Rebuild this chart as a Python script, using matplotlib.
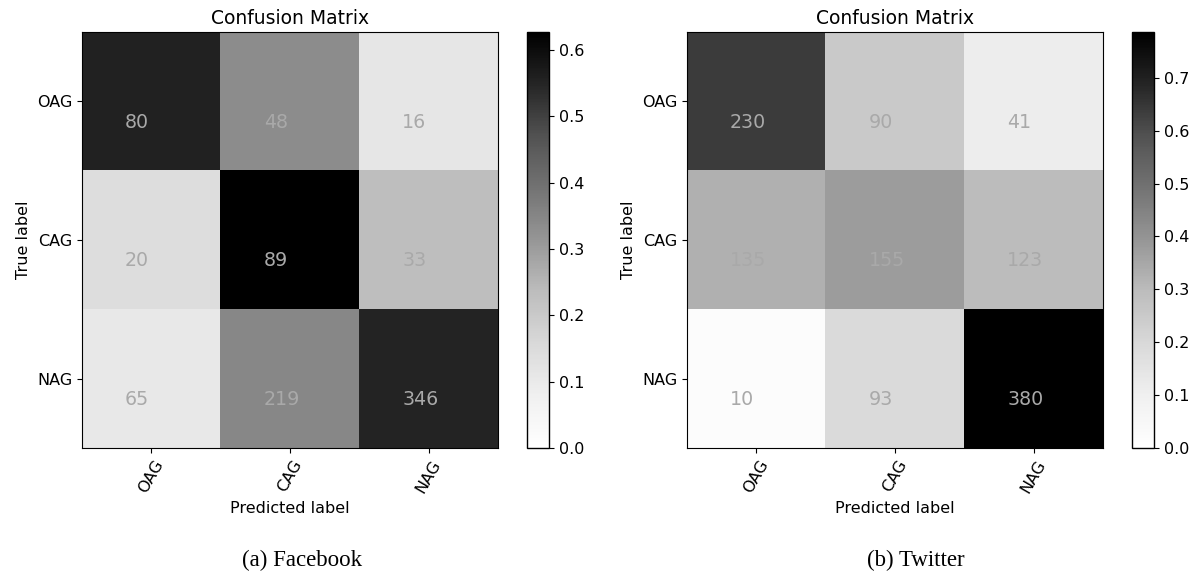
import numpy as np
import matplotlib
matplotlib.use('Agg')
import matplotlib.pyplot as plt

classes = ['OAG', 'CAG', 'NAG']

# raw counts, rows = true label, cols = predicted label
facebook_counts = [[80, 48, 16],
                   [20, 89, 33],
                   [65, 219, 346]]
twitter_counts = [[230, 90, 41],
                  [135, 155, 123],
                  [10, 93, 380]]

captions = ['(a) Facebook', '(b) Twitter']
panels = [facebook_counts, twitter_counts]

fig = plt.figure(figsize=(11.99, 5.75), dpi=100)

W, H = 1199., 575.
ax_left = [82, 687]
cb_left = [527, 1132]
caption_x = [302, 916]

for k, counts in enumerate(panels):
    cm = np.array(counts)
    # colours come from the row-normalised matrix
    cm_norm = cm.astype(float) / cm.sum(axis=1)[:, np.newaxis]

    ax = fig.add_axes([ax_left[k] / W, (H - 448) / H, 416 / W, 416 / H])
    cax = fig.add_axes([cb_left[k] / W, (H - 448) / H, 22 / W, 416 / H])

    im = ax.imshow(cm_norm, interpolation='nearest', cmap=plt.cm.Greys,
                   aspect='auto', vmin=0)
    cb = fig.colorbar(im, cax=cax)
    cb.ax.tick_params(labelsize=11.5)
    cb.outline.set_linewidth(1.0)

    ax.set_title('Confusion Matrix', fontsize=13.5)
    tick_marks = np.arange(len(classes))
    ax.set_xticks(tick_marks)
    ax.set_xticklabels(classes, rotation=60, fontsize=11.5)
    ax.set_yticks(tick_marks)
    ax.set_yticklabels(classes, fontsize=11.5)

    for i in range(cm.shape[0]):
        for j in range(cm.shape[1]):
            ax.text(j - 0.19, i + 0.19, format(cm[i, j], 'd'),
                    ha='left', va='baseline', color='darkgray', fontsize=13.7)

    ax.set_ylabel('True label', fontsize=11.5)
    ax.set_xlabel('Predicted label', fontsize=11.5)

    fig.text(caption_x[k] / W, 1 - 560 / H, captions[k], ha='center', va='center',
             family='Liberation Serif', fontsize=16.5)

fig.savefig('out.png', dpi=100)
